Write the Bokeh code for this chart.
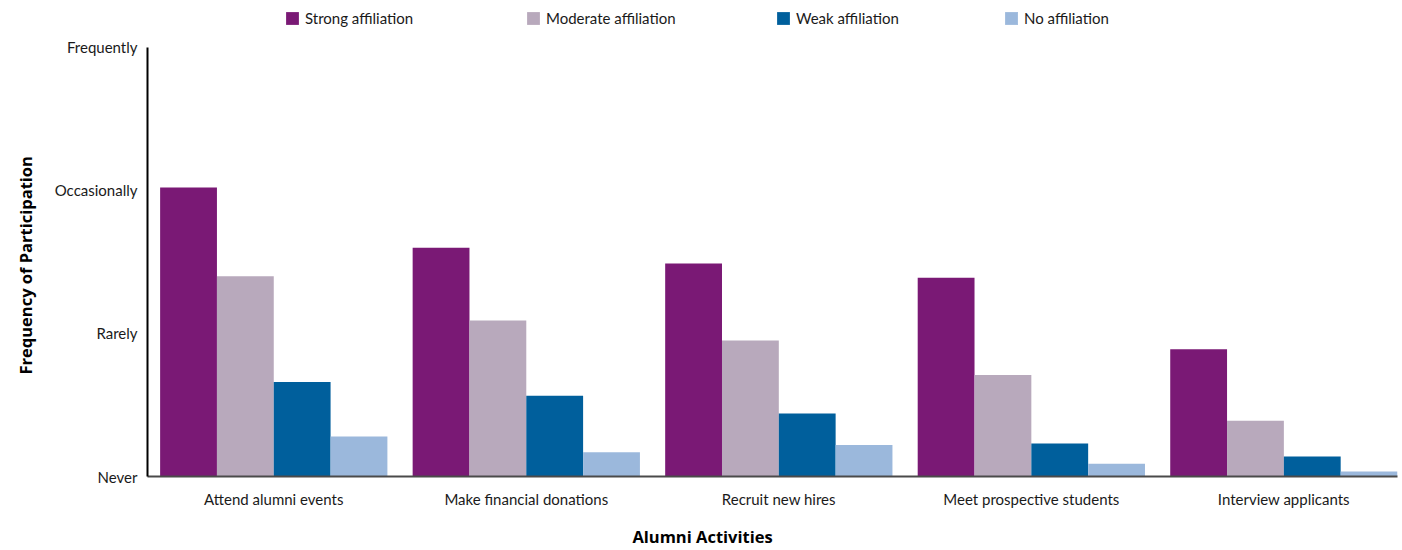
from bokeh.plotting import figure
from bokeh.models import (ColumnDataSource, FixedTicker, Legend, LegendItem,
                          Range1d, LinearAxis, Title)
from bokeh.embed import file_html
from bokeh.resources import INLINE

# Alumni activities and how often each affiliation group takes part
categories = ["Attend alumni events", "Make financial donations",
              "Recruit new hires", "Meet prospective students",
              "Interview applicants"]
frequency_levels = ["Never", "Rarely", "Occasionally", "Frequently"]

series_names = ["Strong affiliation", "Moderate affiliation",
                "Weak affiliation", "No affiliation"]
strong = [2.02, 1.60, 1.49, 1.39, 0.89]
moderate = [1.40, 1.09, 0.95, 0.71, 0.39]
weak = [0.66, 0.565, 0.44, 0.23, 0.14]
no_aff = [0.28, 0.17, 0.22, 0.09, 0.035]

x_title = "Alumni Activities"
y_title = "Frequency of Participation"

colors = ["#7a1975", "#b8a9bc", "#005f9c", "#9bb8dc"]

FONT = "Lato"
TITLE_FONT = "Open Sans"
TEXT = "#1a1a1a"

bar_w = 0.225
offsets = [-1.5 * bar_w, -0.5 * bar_w, 0.5 * bar_w, 1.5 * bar_w]

# the frame runs to the top edge so the legend row sits inside it;
# the extra headroom above "Frequently" holds the legend
top_level = len(frequency_levels) - 1
y_top = top_level * 477 / 430

p = figure(width=1402, height=550, output_backend="svg", toolbar_location=None,
           x_range=Range1d(-0.5, 4.45), y_range=Range1d(0, y_top),
           min_border_left=147, min_border_right=5,
           min_border_top=0, min_border_bottom=73)

p.outline_line_color = None
p.xgrid.grid_line_color = None
p.ygrid.grid_line_color = None
p.background_fill_color = "white"
p.border_fill_color = "white"

renderers = []
for name, vals, off, col in zip(series_names, [strong, moderate, weak, no_aff],
                                offsets, colors):
    src = ColumnDataSource(dict(x=[i + off for i in range(len(categories))],
                                top=vals))
    r = p.vbar(x="x", top="top", bottom=0, width=bar_w, source=src,
               fill_color=col, line_color=None)
    renderers.append(r)

# y axis: frequency scale, line drawn only from Never to Frequently
p.yaxis.ticker = FixedTicker(ticks=list(range(len(frequency_levels))))
p.yaxis.major_label_overrides = {i: t for i, t in enumerate(frequency_levels)}
p.yaxis.bounds = (0, top_level)
p.yaxis.major_tick_out = 0
p.yaxis.minor_tick_out = 0
p.yaxis.major_tick_line_color = None
p.yaxis.minor_tick_line_color = None
p.yaxis.axis_line_color = "black"
p.yaxis.axis_line_width = 2
p.yaxis.major_label_text_font = FONT
p.yaxis.major_label_text_font_size = "15px"
p.yaxis.major_label_text_color = TEXT
p.yaxis.major_label_standoff = 10

# x axis: activities
p.xaxis.ticker = FixedTicker(ticks=list(range(len(categories))))
p.xaxis.major_label_overrides = {i: t for i, t in enumerate(categories)}
p.xaxis.major_tick_out = 0
p.xaxis.minor_tick_out = 0
p.xaxis.major_tick_line_color = None
p.xaxis.minor_tick_line_color = None
p.xaxis.axis_line_color = "#4a4a4a"
p.xaxis.axis_line_width = 2
p.xaxis.major_label_text_font = FONT
p.xaxis.major_label_text_font_size = "15px"
p.xaxis.major_label_text_color = TEXT
p.xaxis.major_label_standoff = 13

# x title: a bare axis whose single label sits centred on the page width
x_title_pos = 1.698
x_title_axis = LinearAxis(ticker=FixedTicker(ticks=[x_title_pos]),
                          major_label_overrides={x_title_pos: x_title},
                          axis_line_color=None, major_tick_line_color=None,
                          minor_tick_line_color=None, major_tick_out=0,
                          minor_tick_out=0, major_label_standoff=14,
                          major_label_text_font=TITLE_FONT,
                          major_label_text_font_style="bold",
                          major_label_text_font_size="16.5px",
                          major_label_text_color="black")
p.add_layout(x_title_axis, "below")

# y title: vertical text beside the frequency labels
p.add_layout(Title(text=y_title, align="left", offset=102,
                   vertical_align="top", standoff=26,
                   text_font=TITLE_FONT, text_font_style="bold",
                   text_font_size="16.5px", text_color="black"), "left")

# one legend entry per series, laid out in a row along the top
legend_x = [137, 378, 628, 856]
for name, r, lx in zip(series_names, renderers, legend_x):
    lg = Legend(items=[LegendItem(label=name, renderers=[r])],
                location=(lx, 449), orientation="horizontal",
                padding=0, margin=0, spacing=0,
                glyph_width=16, glyph_height=16, label_height=16,
                label_standoff=5, border_line_color=None,
                background_fill_alpha=0, label_text_font=FONT,
                label_text_font_size="15px", label_text_color=TEXT)
    p.add_layout(lg, "center")

open("out.html", "w").write(file_html(p, INLINE))
